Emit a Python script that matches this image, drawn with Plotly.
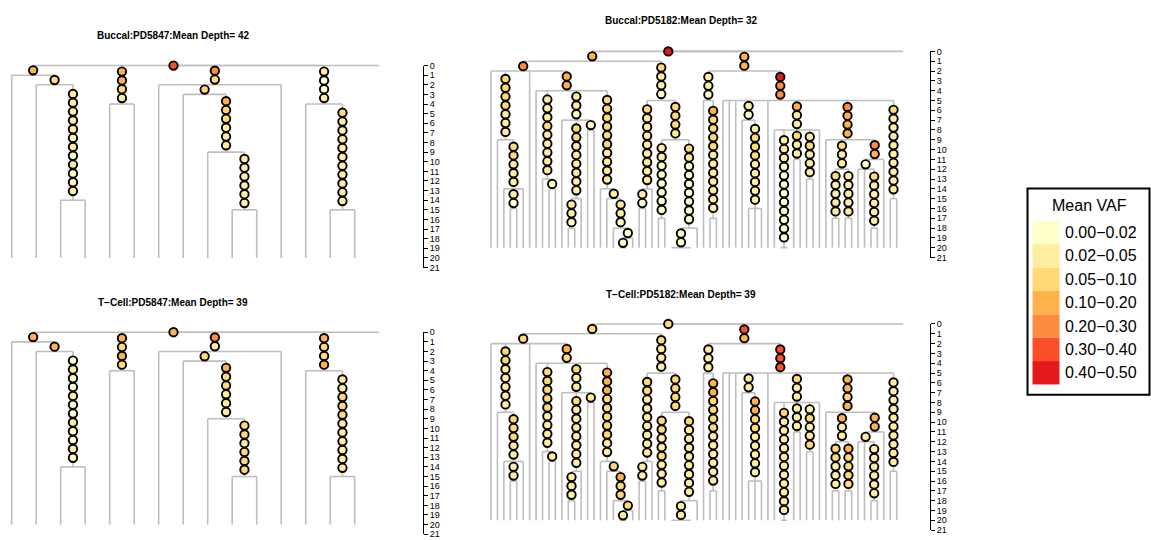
import plotly.graph_objects as go

W, H = 1151, 540
FONT = "Liberation Sans, Arial, Helvetica, sans-serif"
TIP_DEPTH = 20
AXIS_TICKS = list(range(0, 22))

# Mean VAF classes (YlOrRd)
VAF_BREAKS = [0.00, 0.02, 0.05, 0.10, 0.20, 0.30, 0.40, 0.50]
VAF_COLORS = ["#FFFFCC", "#FFEDA0", "#FED976", "#FEB24C", "#FD8D3C", "#FC4E2A", "#E31A1C"]

# Trees: branch lengths are mutation counts; bare tips run down to TIP_DEPTH
TREE_PD5847 = ("(((t,(t,(t,t)A2b:12)A2:1)A:1,(t,t)B:4,"
               "(t,(t,(t,(t,t)C1b2:6)C1b:6)C1:1,t)C:2,(t,(t,t)D2:11)D:4)R:0,og:0);")

CLADE_P1 = ("(t,(t,(t,(t,t)X2b:2,t)X2:5)X:7,t,"
            "(t,(t,(t,t)Y1b:1)Y1:9,(t,((t,t)Y2a1:3,t)Y2a:8,(t,t)Y2b:1)Y2:3,"
            "(t,(t,(t,((t,t)Y3e:1,t)Y3d:1)Y3c:3)Y3b:1)Y3:10)Y:2)P1:1")
CLADE_P2 = "(((t,t)P2a1:2,t)P2a:9,((t,t)P2b1:8,((t,t,t,t)P2b2a:2,t)P2b2:9)P2b:4)P2:4"
CLADE_S1 = "(t,(t,t)S1a:12)S1:3"
CLADE_S2 = ("(t,t,t,(t,(t,t,t)S2a1:9)S2a:2,t,"
            "(t,(t,t)S2b1:12,(t,t)S2b2:3,(t,t)S2b3:5,t)S2b:3,"
            "(t,((t,t)S2c1a:5,(t,t)S2c1b:5)S2c1:3,((t,t,(t,t)S2c2a1:6)S2c2a:1,t)S2c2:2)S2c:4,"
            "(t,t)S2d:10)S2:3")
TREE_PD5182 = ("(((" + CLADE_P1 + "," + CLADE_P2 + ")P:1,("
               + CLADE_S1 + "," + CLADE_S2 + ")S:2)R:0,og:0);")

# Mean VAF of each mutation, listed top to bottom along its branch
VAF_BUCCAL_PD5847 = {
    "R": [0.35], "A": [0.15], "A2": [0.08],
    "A2b": [0.04, 0.04, 0.03, 0.03, 0.03, 0.01, 0.03, 0.01, 0.03, 0.01, 0.01, 0.03],
    "B": [0.15, 0.15, 0.08, 0.03],
    "C": [0.25, 0.08], "C1": [0.08],
    "C1b": [0.15, 0.08, 0.08, 0.04, 0.04, 0.03],
    "C1b2": [0.04, 0.04, 0.03, 0.03, 0.03, 0.03],
    "D": [0.03, 0.01, 0.01, 0.03],
    "D2": [0.08, 0.04, 0.04, 0.04, 0.04, 0.04, 0.04, 0.04, 0.03, 0.03, 0.04],
}
VAF_TCELL_PD5847 = {
    "R": [0.15], "A": [0.15], "A2": [0.15],
    "A2b": [0.01, 0.03, 0.01, 0.01, 0.03, 0.01, 0.01, 0.03, 0.01, 0.01, 0.03, 0.01],
    "B": [0.15, 0.08, 0.12, 0.08],
    "C": [0.25, 0.03], "C1": [0.08],
    "C1b": [0.15, 0.08, 0.08, 0.04, 0.04, 0.03],
    "C1b2": [0.08, 0.08, 0.04, 0.08, 0.08, 0.08],
    "D": [0.15, 0.08, 0.08, 0.12],
    "D2": [0.04, 0.04, 0.08, 0.08, 0.08, 0.04, 0.04, 0.04, 0.04, 0.04, 0.04],
}
VAF_BUCCAL_PD5182 = {
    "R": [0.45], "P": [0.15], "P1": [0.25],
    "X": [0.08, 0.08, 0.08, 0.08, 0.04, 0.04, 0.03],
    "X2": [0.08, 0.08, 0.04, 0.04, 0.03], "X2b": [0.03, 0.01],
    "Y": [0.15, 0.15],
    "Y1": [0.04, 0.04, 0.04, 0.08, 0.04, 0.04, 0.03, 0.03, 0.03], "Y1b": [0.01],
    "Y2": [0.04, 0.03, 0.01],
    "Y2a": [0.08, 0.08, 0.04, 0.04, 0.04, 0.04, 0.03, 0.03],
    "Y2a1": [0.03, 0.03, 0.01], "Y2b": [0.01],
    "Y3": [0.08, 0.08, 0.08, 0.08, 0.08, 0.08, 0.04, 0.04, 0.04, 0.04],
    "Y3b": [0.04], "Y3c": [0.03, 0.03, 0.01], "Y3d": [0.01], "Y3e": [0.01],
    "P2": [0.08, 0.04, 0.04, 0.01],
    "P2a": [0.08, 0.04, 0.04, 0.04, 0.04, 0.04, 0.03, 0.03, 0.03], "P2a1": [0.03, 0.01],
    "P2b": [0.08, 0.08, 0.08, 0.04],
    "P2b1": [0.04, 0.03, 0.01, 0.01, 0.01, 0.01, 0.01, 0.01],
    "P2b2": [0.08, 0.03, 0.01, 0.01, 0.01, 0.01, 0.01, 0.01, 0.01], "P2b2a": [0.01, 0.01],
    "S": [0.15, 0.15],
    "S1": [0.04, 0.03, 0.01],
    "S1a": [0.15, 0.08, 0.08, 0.08, 0.08, 0.04, 0.04, 0.04, 0.04, 0.04, 0.04, 0.04],
    "S2": [0.45, 0.25, 0.25],
    "S2a": [0.04, 0.01],
    "S2a1": [0.04, 0.08, 0.08, 0.08, 0.04, 0.04, 0.04, 0.03, 0.03],
    "S2b": [0.15, 0.04, 0.04],
    "S2b1": [0.03, 0.03, 0.03, 0.01, 0.01, 0.01, 0.01, 0.01, 0.01, 0.01, 0.01, 0.01],
    "S2b2": [0.08, 0.04, 0.04], "S2b3": [0.04, 0.08, 0.04, 0.04, 0.04],
    "S2c": [0.25, 0.15, 0.15, 0.15], "S2c1": [0.08, 0.04, 0.03],
    "S2c1a": [0.08, 0.04, 0.04, 0.04, 0.03], "S2c1b": [0.04, 0.04, 0.04, 0.03, 0.03],
    "S2c2": [0.25, 0.15], "S2c2a": [0.01],
    "S2c2a1": [0.08, 0.04, 0.04, 0.04, 0.03, 0.03],
    "S2d": [0.08, 0.04, 0.04, 0.04, 0.04, 0.03, 0.03, 0.03, 0.03, 0.03],
}
VAF_TCELL_PD5182 = {
    "R": [0.08], "P": [0.08], "P1": [0.08],
    "X": [0.08, 0.08, 0.04, 0.04, 0.04, 0.03, 0.03],
    "X2": [0.08, 0.08, 0.08, 0.04, 0.04], "X2b": [0.03, 0.03],
    "Y": [0.15, 0.08],
    "Y1": [0.08, 0.08, 0.08, 0.08, 0.08, 0.04, 0.04, 0.03, 0.03], "Y1b": [0.03],
    "Y2": [0.08, 0.04, 0.03],
    "Y2a": [0.08, 0.04, 0.04, 0.03, 0.03, 0.03, 0.03, 0.03],
    "Y2a1": [0.03, 0.03, 0.03], "Y2b": [0.04],
    "Y3": [0.15, 0.15, 0.15, 0.08, 0.08, 0.08, 0.08, 0.08, 0.04, 0.04],
    "Y3b": [0.08], "Y3c": [0.15, 0.08, 0.08], "Y3d": [0.08], "Y3e": [0.03],
    "P2": [0.08, 0.04, 0.04, 0.03],
    "P2a": [0.08, 0.08, 0.04, 0.04, 0.04, 0.04, 0.04, 0.03, 0.03], "P2a1": [0.03, 0.03],
    "P2b": [0.08, 0.08, 0.08, 0.08],
    "P2b1": [0.08, 0.08, 0.04, 0.04, 0.08, 0.04, 0.04, 0.04],
    "P2b2": [0.08, 0.04, 0.04, 0.03, 0.03, 0.03, 0.03, 0.03, 0.03], "P2b2a": [0.03, 0.03],
    "S": [0.35, 0.15],
    "S1": [0.04, 0.03, 0.03],
    "S1a": [0.15, 0.12, 0.08, 0.08, 0.08, 0.08, 0.04, 0.04, 0.04, 0.04, 0.04, 0.04],
    "S2": [0.35, 0.35, 0.35],
    "S2a": [0.04, 0.03],
    "S2a1": [0.15, 0.12, 0.08, 0.08, 0.04, 0.04, 0.04, 0.04, 0.04],
    "S2b": [0.08, 0.04, 0.04],
    "S2b1": [0.08, 0.04, 0.04, 0.03, 0.03, 0.03, 0.03, 0.03, 0.03, 0.03, 0.03, 0.03],
    "S2b2": [0.04, 0.04, 0.03], "S2b3": [0.04, 0.08, 0.04, 0.04, 0.08],
    "S2c": [0.15, 0.15, 0.08, 0.15], "S2c1": [0.15, 0.04, 0.03],
    "S2c1a": [0.08, 0.08, 0.04, 0.04, 0.04], "S2c1b": [0.15, 0.08, 0.08, 0.08, 0.08],
    "S2c2": [0.15, 0.15], "S2c2a": [0.03],
    "S2c2a1": [0.04, 0.03, 0.03, 0.03, 0.03, 0.03],
    "S2d": [0.03, 0.03, 0.03, 0.04, 0.04, 0.04, 0.04, 0.04, 0.04, 0.04],
}

# Panel placement in pixels: first tip, tip spacing, depth 0, pixels per mutation
PANELS = [
    dict(title="Buccal:PD5847:Mean Depth= 42", tree=TREE_PD5847, vaf=VAF_BUCCAL_PD5847,
         x0=11.7, dx=24.5, y0=61.7, dy=9.8, axis_x=423, title_xy=(173, 31.5)),
    dict(title="Buccal:PD5182:Mean Depth= 32", tree=TREE_PD5182, vaf=VAF_BUCCAL_PD5182,
         x0=491, dx=6.44, y0=47.3, dy=10.0, axis_x=930, title_xy=(681, 16)),
    dict(title="T\u2212Cell:PD5847:Mean Depth= 39", tree=TREE_PD5847, vaf=VAF_TCELL_PD5847,
         x0=11.7, dx=24.5, y0=333.4, dy=9.8, axis_x=423, title_xy=(173, 303)),
    dict(title="T\u2212Cell:PD5182:Mean Depth= 39", tree=TREE_PD5182, vaf=VAF_TCELL_PD5182,
         x0=491, dx=6.44, y0=325.0, dy=10.0, axis_x=930, title_xy=(681, 295)),
]
CIRCLE_STEP_PX = 9.0
BRANCH_COLOR = "#BEBEBE"


def parse_newick(s):
    pos = 0

    def node():
        nonlocal pos
        children = []
        if s[pos] == "(":
            pos += 1
            while True:
                children.append(node())
                if s[pos] == ",":
                    pos += 1
                    continue
                pos += 1  # ')'
                break
        start = pos
        while s[pos] not in ":,);":
            pos += 1
        name = s[start:pos]
        length = None
        if s[pos] == ":":
            pos += 1
            start = pos
            while s[pos] not in ",);":
                pos += 1
            length = float(s[start:pos])
        return {"name": name, "children": children, "length": length}

    return node()


def place(n, depth, counter):
    n["depth"] = depth
    if not n["children"]:
        n["x"] = counter[0]
        counter[0] += 1
        return
    for c in n["children"]:
        d = depth + c["length"] if c["length"] is not None else TIP_DEPTH
        place(c, d, counter)
    n["x"] = sum(c["x"] for c in n["children"]) / len(n["children"])


def vaf_color(v):
    for lo, hi, col in zip(VAF_BREAKS[:-1], VAF_BREAKS[1:], VAF_COLORS):
        if lo <= v < hi:
            return col
    return VAF_COLORS[-1]


def collect(n, parent_depth, vaf, step, lx, ly, mx, my, mc):
    muts = vaf.get(n["name"], [])
    mid = (parent_depth + n["depth"]) / 2.0
    k = len(muts)
    for i, v in enumerate(muts):
        mx.append(n["x"])
        my.append(mid + (i - (k - 1) / 2.0) * step)
        mc.append(vaf_color(v))
    if n["children"]:
        cxs = [c["x"] for c in n["children"]]
        lx += [min(cxs), max(cxs), None]
        ly += [n["depth"], n["depth"], None]
        for c in n["children"]:
            lx += [c["x"], c["x"], None]
            ly += [n["depth"], c["depth"], None]
            collect(c, n["depth"], vaf, step, lx, ly, mx, my, mc)


fig = go.Figure()
layout = {}
annotations = []

for k, p in enumerate(PANELS, start=1):
    root = parse_newick(p["tree"])
    place(root, 0.0, [0])
    lx, ly, mx, my, mc = [], [], [], [], []
    collect(root, 0.0, p["vaf"], CIRCLE_STEP_PX / p["dy"], lx, ly, mx, my, mc)

    xref = "x" if k == 1 else f"x{k}"
    yref = "y" if k == 1 else f"y{k}"
    tick_y = f"y{k + 4}"

    fig.add_trace(go.Scatter(x=lx, y=ly, mode="lines", xaxis=xref, yaxis=yref,
                             line=dict(color=BRANCH_COLOR, width=1.6),
                             hoverinfo="skip", showlegend=False))
    fig.add_trace(go.Scatter(x=mx, y=my, mode="markers", xaxis=xref, yaxis=yref,
                             marker=dict(size=8.4, color=mc, line=dict(color="black", width=1.9)),
                             cliponaxis=False, hoverinfo="skip", showlegend=False))
    fig.add_trace(go.Scatter(x=[None], y=[None], mode="markers", xaxis=xref, yaxis=tick_y,
                             hoverinfo="skip", showlegend=False))

    x0, dx, y0, dy = p["x0"], p["dx"], p["y0"], p["dy"]
    layout["xaxis" if k == 1 else f"xaxis{k}"] = dict(
        domain=[0, 1], range=[(0 - x0) / dx, (W - x0) / dx], visible=False)
    layout["yaxis" if k == 1 else f"yaxis{k}"] = dict(
        domain=[0, 1], range=[(H - y0) / dy, (0 - y0) / dy], visible=False)
    top_tick, bot_tick = AXIS_TICKS[0], AXIS_TICKS[-1]
    layout[f"yaxis{k + 4}"] = dict(
        domain=[1 - (y0 + bot_tick * dy) / H, 1 - (y0 + top_tick * dy) / H],
        range=[bot_tick, top_tick], anchor="free", position=p["axis_x"] / W, side="right",
        showline=True, linecolor="black", linewidth=1, ticks="outside", ticklen=4,
        tickwidth=1, tickcolor="black", tickvals=AXIS_TICKS,
        ticktext=[str(t) for t in AXIS_TICKS], tickfont=dict(size=9, color="black", family=FONT),
        showgrid=False, zeroline=False)

    tx, ty = p["title_xy"]
    annotations.append(dict(x=tx / W, y=1 - ty / H, xref="paper", yref="paper",
                            text=f"<b>{p['title']}</b>", showarrow=False,
                            xanchor="center", yanchor="middle",
                            font=dict(size=10, color="black", family=FONT)))

# Colour key
shapes = []
LEG_X0, LEG_Y0, LEG_X1, LEG_Y1 = 1027.5, 187.0, 1149.5, 397.0
shapes.append(dict(type="rect", xref="paper", yref="paper",
                   x0=LEG_X0 / W, x1=LEG_X1 / W, y0=1 - LEG_Y1 / H, y1=1 - LEG_Y0 / H,
                   line=dict(color="black", width=2), fillcolor="white", layer="below"))
annotations.append(dict(x=1089 / W, y=1 - 204 / H, xref="paper", yref="paper",
                        text="Mean VAF", showarrow=False, xanchor="center", yanchor="middle",
                        font=dict(size=16, color="black", family=FONT)))
ROW_TOP, ROW_H = 220.0, 23.8
for i, (lo, hi, col) in enumerate(zip(VAF_BREAKS[:-1], VAF_BREAKS[1:], VAF_COLORS)):
    r0 = ROW_TOP + i * ROW_H
    shapes.append(dict(type="rect", xref="paper", yref="paper",
                       x0=1032.5 / W, x1=1059.5 / W, y0=1 - (r0 + ROW_H) / H, y1=1 - r0 / H,
                       line=dict(width=0), fillcolor=col))
    annotations.append(dict(x=1062.5 / W, y=1 - (r0 + ROW_H / 2) / H, xref="paper", yref="paper",
                            text=f"{lo:.2f}\u2212{hi:.2f}", showarrow=False,
                            xanchor="left", yanchor="middle",
                            font=dict(size=16, color="black", family=FONT)))

fig.update_layout(
    width=W, height=H, margin=dict(l=0, r=0, t=0, b=0),
    paper_bgcolor="white", plot_bgcolor="rgba(0,0,0,0)",
    font=dict(family=FONT, color="black"),
    showlegend=False, annotations=annotations, shapes=shapes,
    **layout,
)

fig.write_html("out.html")
